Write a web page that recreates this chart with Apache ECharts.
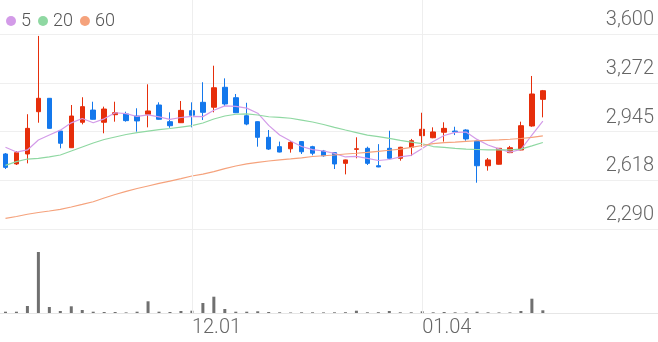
<!DOCTYPE html>
<html><head><meta charset="utf-8">
<script src="https://cdn.jsdelivr.net/npm/echarts@6/dist/echarts.min.js"></script>
<style>html,body{margin:0;padding:0;background:#fff}#c{width:658px;height:342px}</style>
</head><body><div id="c"></div>
<script>
// ---- data ----
const dates = ['11.06','11.09','11.10','11.11','11.12','11.13','11.16','11.17','11.18','11.19',
  '11.20','11.23','11.24','11.25','11.26','11.27','11.30','12.01','12.02','12.03',
  '12.04','12.07','12.08','12.09','12.10','12.11','12.14','12.15','12.16','12.17',
  '12.18','12.21','12.22','12.23','12.24','12.28','12.29','12.30','01.04','01.05',
  '01.06','01.07','01.08','01.11','01.12','01.13','01.14','01.15','01.18','01.19',
  '01.20','01.21','01.22','01.25','01.26','01.27','01.28','01.29','02.01','02.02'];
const xTickLabels = ['12.01','01.04'];
const opens  = [2794,2727,2794,3078,3168,2948,2836,3007,3089,3007,3058,3063,3049,3061,3123,3011,3004,3085,3141,3108,
                3242,3172,3051,3011,2906,2843,2829,2877,2843,2814,2803,2731,2825,2832,2715,2832,2765,2839,2917,2903,
                2940,2948,2955,2881,2715,2725,2803,2821,2982,3161];
const closes = [2704,2803,2966,3168,2966,2866,3049,3112,3027,3096,3071,3018,3016,3083,3027,2984,3087,3054,3074,3239,
                3130,3071,2995,2906,2827,2807,2872,2809,2799,2782,2727,2754,2829,2731,2707,2765,2839,2883,2960,2942,
                2966,2942,2895,2715,2754,2832,2836,2984,3197,3219];
const lows   = [2693,2720,2731,3004,2964,2832,2834,2993,3025,2933,3011,3011,2944,2973,3025,2970,3002,2973,3022,3074,
                3116,3069,2987,2843,2821,2805,2803,2794,2785,2776,2693,2657,2765,2720,2705,2763,2749,2780,2843,2900,
                2877,2921,2883,2601,2682,2723,2800,2819,2977,3040];
const highs  = [2800,2814,3061,3587,3170,2950,3123,3175,3145,3112,3145,3078,3101,3262,3141,3074,3150,3141,3276,3387,
                3302,3197,3138,3013,2955,2877,2881,2881,2849,2821,2806,2756,2906,2843,2860,2950,2842,2895,3071,2973,
                3007,2977,2960,2883,2767,2834,2848,3011,3318,3224];
const ma5  = [2839,2807,2821,2888,2921,2954,3003,3032,3004,3030,3071,3065,3046,3057,3043,3026,3039,3047,3045,3088,
              3117,3114,3102,3068,2986,2921,2881,2844,2823,2814,2798,2774,2778,2765,2750,2757,2774,2785,2831,2878,
              2918,2939,2941,2892,2854,2828,2806,2824,2921,3014];
const ma20 = [2717,2743,2760,2764,2774,2787,2814,2841,2868,2891,2908,2925,2938,2948,2957,2965,2975,2985,3002,3029,
              3049,3061,3063,3056,3044,3040,3034,3022,3009,2992,2973,2955,2938,2921,2911,2899,2885,2874,2863,2844,
              2838,2832,2827,2824,2821,2821,2821,2827,2848,2871];
const ma60 = [2361,2374,2389,2401,2411,2422,2438,2455,2473,2498,2522,2543,2562,2579,2596,2612,2628,2646,2659,2675,
              2696,2713,2728,2738,2747,2755,2761,2768,2777,2782,2787,2794,2799,2805,2812,2819,2827,2838,2851,2863,
              2870,2874,2879,2883,2886,2889,2893,2898,2906,2915];
const volumes = [130,130,700,6100,600,200,670,300,130,100,100,60,130,1170,130,100,200,230,1000,1630,
                 400,130,130,170,100,70,50,70,70,60,70,80,230,70,80,200,70,70,170,70,
                 100,70,60,130,70,60,60,200,1430,270];
const yTickValues = [2290, 2617.5, 2945, 3272.5, 3600];
const yTickLabels = ['2,290','2,618','2,945','3,272','3,600'];

// ---- chart ----
const RED = '#e62e0b', BLUE = '#1478ec';
const FONT = 'Roboto, "Noto Sans", sans-serif';
const candles = opens.map((o, i) => [o, closes[i], lows[i], highs[i]]);
const chart = echarts.init(document.getElementById('c'), null, {renderer: 'canvas'});
chart.setOption({
  animation: false,
  backgroundColor: '#fff',
  legend: {
    left: 1, top: 7, itemWidth: 10, itemHeight: 10, itemGap: 7, icon: 'circle',
    data: ['5', '20', '60'],
    textStyle: {fontSize: 18, color: '#555', fontFamily: FONT, fontWeight: 300}
  },
  grid: [
    {left: 0, right: 0, top: 34, bottom: 113},
    {left: 0, right: 0, top: 240, bottom: 29},
    {left: 0, right: 0, top: 0, bottom: 29}
  ],
  xAxis: [
    {type: 'category', gridIndex: 0, data: dates, boundaryGap: true,
     axisLine: {show: false}, axisTick: {show: false}, axisLabel: {show: false}, splitLine: {show: false}},
    {type: 'category', gridIndex: 1, data: dates, boundaryGap: true,
     axisLine: {show: true, lineStyle: {color: '#e6e6e6', width: 1}}, axisTick: {show: false},
     axisLabel: {interval: (i, v) => xTickLabels.includes(v), align: 'left', margin: 5,
                 fontSize: 20, color: '#666', fontFamily: FONT, fontWeight: 300},
     splitLine: {show: false}},
    {type: 'category', gridIndex: 2, data: dates, boundaryGap: true, show: false}
  ],
  yAxis: [
    {type: 'value', gridIndex: 0, position: 'right', scale: true,
     min: yTickValues[0], max: yTickValues[yTickValues.length - 1], interval: yTickValues[1] - yTickValues[0],
     axisLine: {show: false}, axisTick: {show: false},
     axisLabel: {inside: true, margin: 4, fontSize: 20, color: '#666', fontFamily: FONT, fontWeight: 300,
                 verticalAlign: 'bottom', padding: [0, 0, 4, 0], showMinLabel: true, showMaxLabel: true,
                 formatter: v => { const i = yTickValues.findIndex(t => Math.abs(t - v) < 1); return i >= 0 ? yTickLabels[i] : ''; }},
     splitLine: {show: true, lineStyle: {color: '#efefef', width: 1}}},
    {type: 'value', gridIndex: 1, min: 0, max: 7300, show: false, splitLine: {show: false}},
    {type: 'value', gridIndex: 2, min: 0, max: 1, show: false, splitLine: {show: false}}
  ],
  series: [
    {name: 'months', type: 'line', xAxisIndex: 2, yAxisIndex: 2, data: [], silent: true, z: 0,
     markLine: {silent: true, symbol: 'none', label: {show: false},
                lineStyle: {color: '#eeeeee', width: 1, type: 'solid'},
                data: xTickLabels.map(d => ({xAxis: d}))}},
    {name: 'price', type: 'candlestick', xAxisIndex: 0, yAxisIndex: 0, data: candles, barWidth: 5,
     itemStyle: {color: RED, color0: BLUE, borderColor: RED, borderColor0: BLUE, borderWidth: 1}},
    {name: '5', type: 'line', xAxisIndex: 0, yAxisIndex: 0, data: ma5, showSymbol: false, symbol: 'none',
     color: '#d39be8', lineStyle: {width: 1.2, color: '#d39be8'}},
    {name: '20', type: 'line', xAxisIndex: 0, yAxisIndex: 0, data: ma20, showSymbol: false, symbol: 'none',
     color: '#8fd8a2', lineStyle: {width: 1.2, color: '#8fd8a2'}},
    {name: '60', type: 'line', xAxisIndex: 0, yAxisIndex: 0, data: ma60, showSymbol: false, symbol: 'none',
     color: '#f5a27c', lineStyle: {width: 1.2, color: '#f5a27c'}},
    {name: 'volume', type: 'bar', xAxisIndex: 1, yAxisIndex: 1, data: volumes, barWidth: 3,
     itemStyle: {color: '#707070'}}
  ]
});
</script>
</body></html>
